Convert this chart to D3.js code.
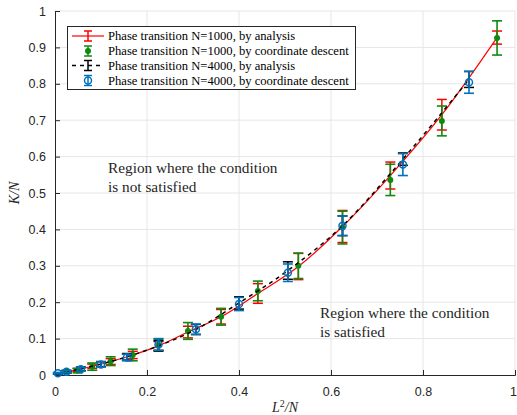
<!DOCTYPE html>
<html>
<head>
<meta charset="utf-8">
<script src="https://cdn.jsdelivr.net/npm/d3@7"></script>
<style>
body { margin:0; background:#fff; }
svg { display:block; }
</style>
</head>
<body>
<div id="chart"></div>
<script>
// N=1000, L odd -> x = L^2/1000
var L1000 = [5,7,9,11,13,15,17,19,21,23,25,27,29,31]
var anaN1000 = [0.008,0.014,0.024,0.037,0.055,0.08,0.118,0.16,0.224,0.298,0.408,0.548,0.715,0.927]
var anaN1000Err = [0.003,0.004,0.006,0.008,0.01,0.012,0.016,0.02,0.027,0.036,0.044,0.037,0.042,0.018]
var cdN1000 = [0.009,0.012,0.023,0.038,0.055,0.082,0.121,0.16,0.231,0.3,0.405,0.536,0.698,0.926]
var cdN1000Err = [0.004,0.006,0.01,0.012,0.016,0.016,0.023,0.023,0.027,0.035,0.045,0.043,0.041,0.047]
// N=4000, L = 5..60 -> x = L^2/4000
var L4000 = [5,10,15,20,25,30,35,40,45,50,55,60]
var anaN4000 = [0.004,0.009,0.017,0.03,0.05,0.08,0.125,0.198,0.287,0.41,0.593,0.812]
var anaN4000Err = [0.002,0.003,0.005,0.007,0.009,0.014,0.014,0.017,0.024,0.027,0.017,0.022]
var cdN4000 = [0.005,0.009,0.016,0.029,0.048,0.084,0.126,0.195,0.281,0.41,0.578,0.804]
var cdN4000Err = [0.002,0.003,0.005,0.007,0.009,0.016,0.014,0.018,0.024,0.027,0.03,0.03]

var xTicks = [0,0.2,0.4,0.6,0.8,1]
var yTicks = [0,0.1,0.2,0.3,0.4,0.5,0.6,0.7,0.8,0.9,1]
var legendLabels = ["Phase transition N=1000, by analysis","Phase transition N=1000, by coordinate descent","Phase transition N=4000, by analysis","Phase transition N=4000, by coordinate descent"]

var W = 517, H = 415
var margin = {top: 11, right: 2, bottom: 40, left: 55}
var x = d3.scaleLinear().domain([0,1]).range([margin.left, W - margin.right])
var y = d3.scaleLinear().domain([0,1]).range([H - margin.bottom, margin.top])

var svg = d3.select("#chart").append("svg").attr("width", W).attr("height", H)

var axisCol = "#262626"
var tickFont = "'Liberation Sans', Arial, sans-serif"
var serif = "'Liberation Serif', 'Times New Roman', serif"

// grid
svg.append("g").selectAll("line").data(xTicks.slice(1)).enter().append("line")
  .attr("x1", d => x(d)).attr("x2", d => x(d)).attr("y1", y(0)).attr("y2", y(1))
  .attr("stroke", "#e6e6e6").attr("stroke-width", 1)
svg.append("g").selectAll("line").data(yTicks.slice(1)).enter().append("line")
  .attr("x1", x(0)).attr("x2", x(1)).attr("y1", d => y(d)).attr("y2", d => y(d))
  .attr("stroke", "#e6e6e6").attr("stroke-width", 1)

// axes (ticks inward)
var xAxis = svg.append("g").attr("transform", "translate(0," + y(0) + ")")
  .call(d3.axisBottom(x).tickValues(xTicks).tickSize(-5).tickPadding(10).tickFormat(d3.format("~g")))
var yAxis = svg.append("g").attr("transform", "translate(" + x(0) + ",0)")
  .call(d3.axisLeft(y).tickValues(yTicks).tickSize(-5).tickPadding(9).tickFormat(d3.format("~g")))
;[xAxis, yAxis].forEach(function(a) {
  a.select(".domain").attr("stroke", axisCol).attr("stroke-width", 1)
  a.selectAll(".tick line").attr("stroke", axisCol)
  a.selectAll(".tick text").attr("fill", axisCol).style("font-family", tickFont).style("font-size", "12.5px")
})
xAxis.selectAll(".tick text").attr("dy", "0.9em")
// keep the last label inside the window
xAxis.selectAll(".tick text").filter(d => d == 1).attr("x", -2)

// errorbar helper
function errorbars(g, xs, vals, errs, col, lw, cap) {
  xs.forEach(function(xv, i) {
    var cx = x(xv), y1 = y(vals[i] - errs[i]), y2 = y(vals[i] + errs[i])
    g.append("line").attr("x1", cx).attr("x2", cx).attr("y1", y1).attr("y2", y2).attr("stroke", col).attr("stroke-width", lw)
    g.append("line").attr("x1", cx - cap).attr("x2", cx + cap).attr("y1", y1).attr("y2", y1).attr("stroke", col).attr("stroke-width", lw)
    g.append("line").attr("x1", cx - cap).attr("x2", cx + cap).attr("y1", y2).attr("y2", y2).attr("stroke", col).attr("stroke-width", lw)
  })
}

var x1000 = L1000.map(l => l*l/1000)
var x4000 = L4000.map(l => l*l/4000)
var line = d3.line().x(d => x(d[0])).y(d => y(d[1])).curve(d3.curveMonotoneX)

var red = "#ff0000", green = "#0f8a0f", blue = "#0072bd"

// N=1000 analysis
var gR = svg.append("g")
gR.append("path").attr("d", line(x1000.map((v,i) => [v, anaN1000[i]]))).attr("fill", "none").attr("stroke", red).attr("stroke-width", 1.2)
errorbars(gR, x1000, anaN1000, anaN1000Err, red, 1.5, 5)

// N=1000 coordinate descent
var gG = svg.append("g")
errorbars(gG, x1000, cdN1000, cdN1000Err, green, 1.6, 5)
gG.selectAll("circle").data(x1000).enter().append("circle")
  .attr("cx", d => x(d)).attr("cy", (d,i) => y(cdN1000[i])).attr("r", 3).attr("fill", green)

// N=4000 analysis
var gK = svg.append("g")
gK.append("path").attr("d", line(x4000.map((v,i) => [v, anaN4000[i]]))).attr("fill", "none").attr("stroke", "#000").attr("stroke-width", 1.5).attr("stroke-dasharray", "4,4")
errorbars(gK, x4000, anaN4000, anaN4000Err, "#000", 1.5, 5)

// N=4000 coordinate descent
var gB = svg.append("g")
errorbars(gB, x4000, cdN4000, cdN4000Err, blue, 1.6, 5)
gB.selectAll("circle").data(x4000).enter().append("circle")
  .attr("cx", d => x(d)).attr("cy", (d,i) => y(cdN4000[i])).attr("r", 3.5).attr("fill", "none").attr("stroke", blue).attr("stroke-width", 1.5)

// annotations
function note(tx, ty, lines) {
  var t = svg.append("text").attr("x", tx).attr("y", ty).style("font-family", serif).style("font-size", "15.3px").attr("fill", "#262626")
  lines.forEach(function(s, i) { t.append("tspan").attr("x", tx).attr("dy", i ? 19 : 0).text(s) })
}
note(108, 173, ["Region where the condition", "is not satisfied"])
note(320, 318, ["Region where the condition", "is satisfied"])

// axis labels
var xl = svg.append("text").attr("x", 285).attr("y", 412).attr("text-anchor", "middle")
  .style("font-family", serif).style("font-size", "14px").style("font-style", "italic").attr("fill", axisCol)
xl.append("tspan").text("L")
xl.append("tspan").attr("dy", -5).style("font-size", "10px").style("font-style", "normal").text("2")
xl.append("tspan").attr("dy", 5).text("/N")
svg.append("text").attr("transform", "translate(19," + y(0.5) + ") rotate(-90)").attr("text-anchor", "middle")
  .style("font-family", serif).style("font-size", "14px").style("font-style", "italic").attr("fill", axisCol).text("K/N")

// legend
var lg = svg.append("g")
lg.append("rect").attr("x", 67.5).attr("y", 26.5).attr("width", 288).attr("height", 63)
  .attr("fill", "#fff").attr("stroke", "#262626").attr("stroke-width", 1)
var rowY = [36, 51, 65.5, 80.5]
var cols = [red, green, "#000", blue]
rowY.forEach(function(ry, i) {
  var cx = 88, c = cols[i]
  if (i == 0) lg.append("line").attr("x1", 72).attr("x2", 104).attr("y1", ry).attr("y2", ry).attr("stroke", c).attr("stroke-width", 1.2)
  if (i == 2) lg.append("line").attr("x1", 72).attr("x2", 104).attr("y1", ry).attr("y2", ry).attr("stroke", c).attr("stroke-width", 1.5).attr("stroke-dasharray", "4,4")
  var e = 5
  lg.append("line").attr("x1", cx).attr("x2", cx).attr("y1", ry - e).attr("y2", ry + e).attr("stroke", c).attr("stroke-width", 1.5)
  lg.append("line").attr("x1", cx - 4).attr("x2", cx + 4).attr("y1", ry - e).attr("y2", ry - e).attr("stroke", c).attr("stroke-width", 1.5)
  lg.append("line").attr("x1", cx - 4).attr("x2", cx + 4).attr("y1", ry + e).attr("y2", ry + e).attr("stroke", c).attr("stroke-width", 1.5)
  if (i == 1) lg.append("circle").attr("cx", cx).attr("cy", ry).attr("r", 3).attr("fill", c)
  if (i == 3) lg.append("circle").attr("cx", cx).attr("cy", ry).attr("r", 3.5).attr("fill", "none").attr("stroke", c).attr("stroke-width", 1.5)
  lg.append("text").attr("x", 108).attr("y", ry + 4).style("font-family", serif).style("font-size", "12.6px").attr("fill", "#000").text(legendLabels[i])
})
</script>
</body>
</html>
